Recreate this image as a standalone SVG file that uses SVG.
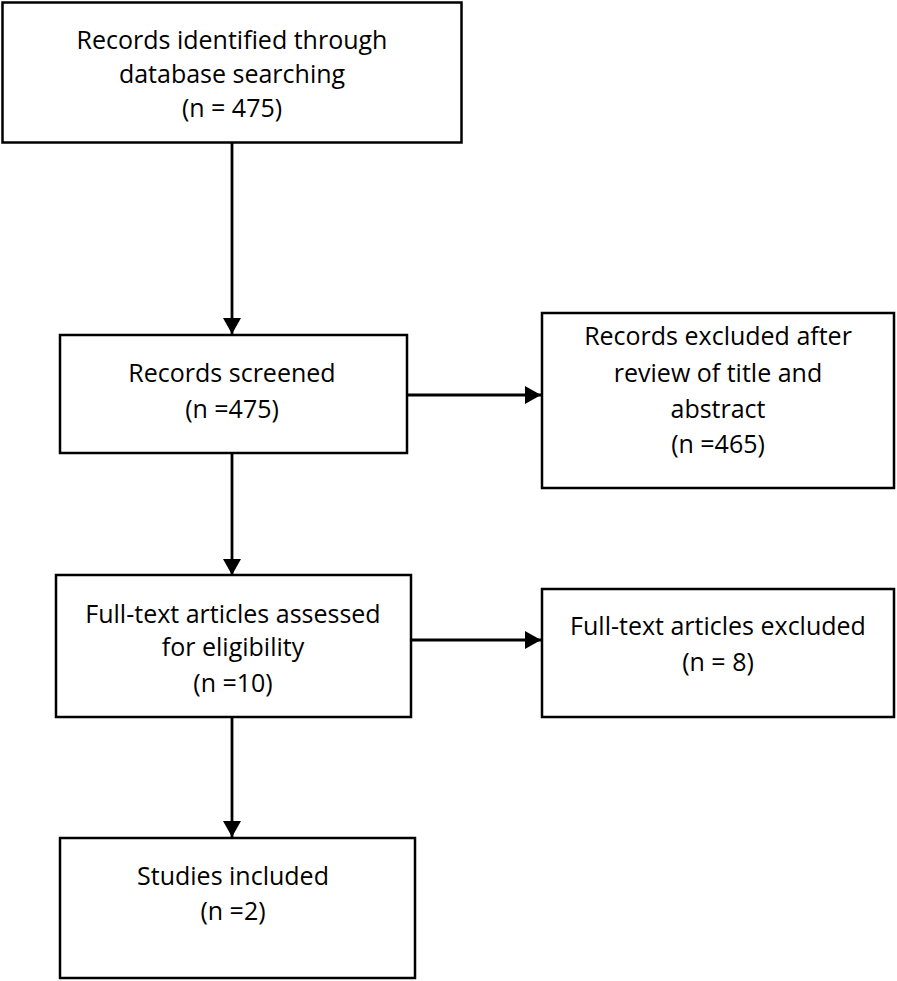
<svg xmlns="http://www.w3.org/2000/svg" width="897" height="981" viewBox="0 0 897 981">
<style>
.box{fill:#fff;stroke:#000;stroke-width:2.5}
.t{font-family:"Open Sans","Liberation Sans",sans-serif;font-size:25px;fill:#000;text-anchor:middle}
.c{stroke:#000;stroke-width:2.8;fill:none}
</style>
<defs>
<marker id="ah" markerWidth="16" markerHeight="18" viewBox="0 0 16 18" refX="16" refY="9" orient="auto" markerUnits="userSpaceOnUse">
<path d="M0,0 L16,9 L0,18 Z" fill="#000"/>
</marker>
</defs>
<rect width="897" height="981" fill="#fff"/>
<g id="connectors">
<line class="c" x1="232" y1="143" x2="232" y2="334" marker-end="url(#ah)"/>
<line class="c" x1="407" y1="395" x2="541" y2="395" marker-end="url(#ah)"/>
<line class="c" x1="232" y1="453" x2="232" y2="575" marker-end="url(#ah)"/>
<line class="c" x1="411" y1="640" x2="541" y2="640" marker-end="url(#ah)"/>
<line class="c" x1="232" y1="717" x2="232" y2="837" marker-end="url(#ah)"/>
</g>
<g id="n1">
<rect class="box" x="2.5" y="2.5" width="459" height="140"/>
<text class="t" x="232" y="49">Records identified through</text>
<text class="t" x="232" y="83">database searching</text>
<text class="t" x="232" y="117">(n = 475)</text>
</g>
<g id="n2">
<rect class="box" x="60" y="335" width="347" height="118"/>
<text class="t" x="232" y="382">Records screened</text>
<text class="t" x="232" y="418">(n =475)</text>
</g>
<g id="n3">
<rect class="box" x="542" y="313" width="352" height="175"/>
<text class="t" x="718" y="345">Records excluded after</text>
<text class="t" x="718" y="382">review of title and</text>
<text class="t" x="718" y="418">abstract</text>
<text class="t" x="718" y="453">(n =465)</text>
</g>
<g id="n4">
<rect class="box" x="56" y="575" width="355" height="142"/>
<text class="t" x="233" y="623">Full-text articles assessed</text>
<text class="t" x="233" y="656">for eligibility</text>
<text class="t" x="233" y="692">(n =10)</text>
</g>
<g id="n5">
<rect class="box" x="542" y="589" width="352" height="128"/>
<text class="t" x="718" y="635">Full-text articles excluded</text>
<text class="t" x="718" y="671">(n = 8)</text>
</g>
<g id="n6">
<rect class="box" x="60" y="838" width="355" height="140"/>
<text class="t" x="233" y="885">Studies included</text>
<text class="t" x="233" y="920">(n =2)</text>
</g>
</svg>
